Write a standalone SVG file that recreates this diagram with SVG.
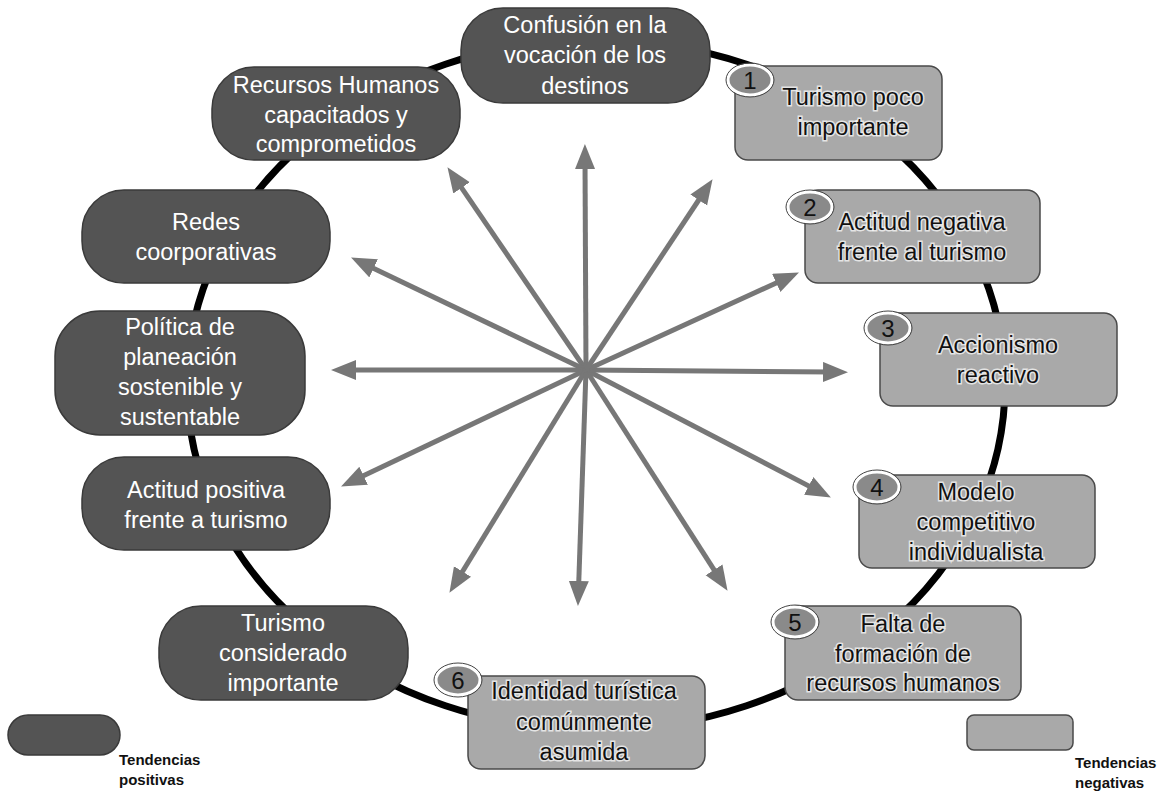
<svg xmlns="http://www.w3.org/2000/svg" width="1166" height="791" viewBox="0 0 1166 791">
<defs>
<marker id="ah" markerUnits="userSpaceOnUse" markerWidth="26" markerHeight="22" refX="9" refY="10" orient="auto">
<path d="M0,0 L25,10 L0,20 z" fill="#777"/>
</marker>
<style>
.ring{fill:none;stroke:#000;stroke-width:7}
.arr{stroke:#777;stroke-width:5;fill:none;marker-end:url(#ah)}
.pos{fill:#545454;stroke:#3a3a3a;stroke-width:1.5}
.neg{fill:#a9a9a9;stroke:#4a4a4a;stroke-width:1.5}
.badge{fill:#8a8a8a;stroke:#fff;stroke-width:3}
.bo{fill:none;stroke:#444;stroke-width:1}
.tw{font-family:"Liberation Sans",Arial,sans-serif;font-size:23.5px;fill:#fff;text-anchor:middle}
.tb{font-family:"Liberation Sans",Arial,sans-serif;font-size:23.5px;fill:#111;text-anchor:middle;stroke:#fff;stroke-width:3;stroke-opacity:0.7;paint-order:stroke}
.num{font-family:"Liberation Sans",Arial,sans-serif;font-size:24px;fill:#111;text-anchor:middle}
.leg{font-family:"Liberation Sans",Arial,sans-serif;font-size:15px;font-weight:bold;fill:#111}
</style>
</defs>
<rect width="1166" height="791" fill="#fff"/>
<ellipse class="ring" cx="596" cy="385" rx="409" ry="345"/>
<g id="connectors">
<line class="arr" x1="586" y1="370" x2="585" y2="160"/>
<line class="arr" x1="586" y1="370" x2="456.5" y2="180.4"/>
<line class="arr" x1="586" y1="370" x2="365.5" y2="264.5"/>
<line class="arr" x1="586" y1="370" x2="347" y2="370"/>
<line class="arr" x1="586" y1="370" x2="355.5" y2="479.6"/>
<line class="arr" x1="586" y1="370" x2="457.8" y2="579.2"/>
<line class="arr" x1="586" y1="370" x2="578.5" y2="590"/>
<line class="arr" x1="586" y1="370" x2="718.9" y2="577.4"/>
<line class="arr" x1="586" y1="370" x2="816.7" y2="490.1"/>
<line class="arr" x1="586" y1="370" x2="832" y2="372"/>
<line class="arr" x1="586" y1="370" x2="784.4" y2="279.2"/>
<line class="arr" x1="586" y1="370" x2="703.7" y2="192.5"/>
</g>
<g id="n-confusion">
<rect class="pos" x="461" y="8" width="249" height="95" rx="42"/>
<text class="tw" x="585" y="33">Confusión en la</text>
<text class="tw" x="585" y="63">vocación de los</text>
<text class="tw" x="585" y="94">destinos</text>
</g>
<g id="n-recursos">
<rect class="pos" x="212" y="67" width="248" height="93" rx="42"/>
<text class="tw" x="336" y="93">Recursos Humanos</text>
<text class="tw" x="336" y="123">capacitados y</text>
<text class="tw" x="336" y="152">comprometidos</text>
</g>
<g id="n-redes">
<rect class="pos" x="82" y="190" width="248" height="93" rx="42"/>
<text class="tw" x="206" y="230">Redes</text>
<text class="tw" x="206" y="260">coorporativas</text>
</g>
<g id="n-politica">
<rect class="pos" x="55" y="311" width="250" height="124" rx="45"/>
<text class="tw" x="180" y="335">Política de</text>
<text class="tw" x="180" y="365">planeación</text>
<text class="tw" x="180" y="395">sostenible y</text>
<text class="tw" x="180" y="425">sustentable</text>
</g>
<g id="n-actitudpos">
<rect class="pos" x="82" y="457" width="248" height="93" rx="42"/>
<text class="tw" x="206" y="498">Actitud positiva</text>
<text class="tw" x="206" y="528">frente a turismo</text>
</g>
<g id="n-turismoimp">
<rect class="pos" x="159" y="606" width="249" height="94" rx="42"/>
<text class="tw" x="283" y="631">Turismo</text>
<text class="tw" x="283" y="661">considerado</text>
<text class="tw" x="283" y="691">importante</text>
</g>
<g id="n1">
<rect class="neg" x="735" y="66" width="207" height="94" rx="13"/>
<text class="tb" x="853" y="105">Turismo poco</text>
<text class="tb" x="853" y="135">importante</text>
<ellipse class="badge" cx="750" cy="80" rx="22" ry="15"/>
<ellipse class="bo" cx="750" cy="80" rx="24" ry="17"/>
<text class="num" x="750" y="89">1</text>
</g>
<g id="n2">
<rect class="neg" x="805" y="190" width="235" height="93" rx="13"/>
<text class="tb" x="922" y="230">Actitud negativa</text>
<text class="tb" x="922" y="260">frente al turismo</text>
<ellipse class="badge" cx="810" cy="207" rx="22" ry="15"/>
<ellipse class="bo" cx="810" cy="207" rx="24" ry="17"/>
<text class="num" x="810" y="216">2</text>
</g>
<g id="n3">
<rect class="neg" x="880" y="313" width="237" height="93" rx="13"/>
<text class="tb" x="998" y="353">Accionismo</text>
<text class="tb" x="998" y="383">reactivo</text>
<ellipse class="badge" cx="888" cy="328" rx="22" ry="15"/>
<ellipse class="bo" cx="888" cy="328" rx="24" ry="17"/>
<text class="num" x="888" y="337">3</text>
</g>
<g id="n4">
<rect class="neg" x="859" y="475" width="236" height="93" rx="13"/>
<text class="tb" x="976" y="500">Modelo</text>
<text class="tb" x="976" y="530">competitivo</text>
<text class="tb" x="976" y="560">individualista</text>
<ellipse class="badge" cx="877" cy="487" rx="22" ry="15"/>
<ellipse class="bo" cx="877" cy="487" rx="24" ry="17"/>
<text class="num" x="877" y="496">4</text>
</g>
<g id="n5">
<rect class="neg" x="785" y="606" width="236" height="94" rx="13"/>
<text class="tb" x="903" y="632">Falta de</text>
<text class="tb" x="903" y="662">formación de</text>
<text class="tb" x="903" y="691">recursos humanos</text>
<ellipse class="badge" cx="795" cy="622" rx="22" ry="15"/>
<ellipse class="bo" cx="795" cy="622" rx="24" ry="17"/>
<text class="num" x="795" y="631">5</text>
</g>
<g id="n6">
<rect class="neg" x="468" y="676" width="237" height="93" rx="13"/>
<text class="tb" x="584" y="699">Identidad turística</text>
<text class="tb" x="584" y="730">comúnmente</text>
<text class="tb" x="584" y="760">asumida</text>
<ellipse class="badge" cx="458" cy="680" rx="22" ry="15"/>
<ellipse class="bo" cx="458" cy="680" rx="24" ry="17"/>
<text class="num" x="458" y="689">6</text>
</g>
<g id="legend-pos">
<rect class="pos" x="8" y="715" width="112" height="40" rx="20"/>
<text class="leg" x="119" y="765">Tendencias</text>
<text class="leg" x="119" y="785">positivas</text>
</g>
<g id="legend-neg">
<rect class="neg" x="967" y="715" width="106" height="35" rx="7"/>
<text class="leg" x="1075" y="768">Tendencias</text>
<text class="leg" x="1075" y="788">negativas</text>
</g>
</svg>
